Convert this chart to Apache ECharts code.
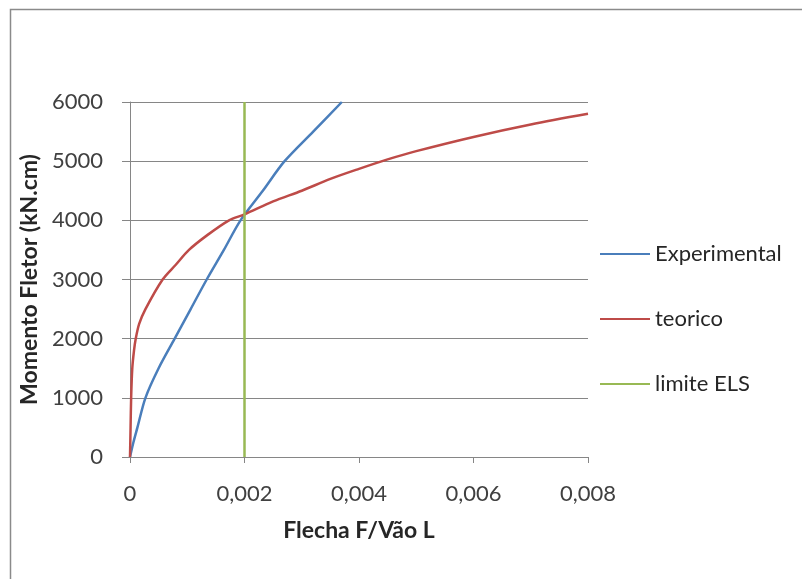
<!DOCTYPE html>
<html>
<head>
<meta charset="utf-8">
<script src="https://cdn.jsdelivr.net/npm/echarts@6/dist/echarts.min.js"></script>
<style>
    html, body { margin: 0; padding: 0; background: #fff; }
</style>
</head>
<body>
    <div id="main" style="width: 802px;height:579px;"></div>
<script type="text/javascript">
    // dados
    var expX = [0, 0.00006, 0.00013, 0.00027, 0.0005, 0.00078, 0.00106, 0.00134, 0.00164, 0.00193, 0.00232, 0.0027, 0.0032, 0.0037];
    var expY = [0, 250, 500, 1000, 1500, 2000, 2500, 3000, 3500, 4000, 4500, 5000, 5500, 6000];
    var teoX = [0, 0.00001, 0.00002, 0.00004, 0.00007, 0.0001, 0.00016, 0.00027, 0.00057, 0.0008, 0.00103, 0.00135, 0.00173, 0.002, 0.0025, 0.003, 0.0035, 0.004, 0.0045, 0.005, 0.006, 0.007, 0.008];
    var teoY = [0, 500, 1000, 1500, 1800, 2000, 2250, 2500, 3000, 3250, 3500, 3750, 4000, 4100, 4320, 4500, 4700, 4870, 5030, 5170, 5410, 5620, 5800];
    var limX = [0.002, 0.002];
    var limY = [0, 6000];
    var xTicks = [0, 0.002, 0.004, 0.006, 0.008];
    var yTicks = [0, 1000, 2000, 3000, 4000, 5000, 6000];

    function pares(xs, ys) {
        var r = [];
        for (var i = 0; i < xs.length; i++) r.push([xs[i], ys[i]]);
        return r;
    }

    var myChart = echarts.init(document.getElementById('main'));
    var fonte = 'Lato, "Open Sans", sans-serif';
    var option = {
        animation: false,
        textStyle: { fontFamily: fonte },
        graphic: [{
            type: 'rect',
            shape: { x: 10.5, y: 9.5, width: 800, height: 580 },
            style: { fill: 'none', stroke: '#8a8a8a', lineWidth: 1.5 }
        }],
        grid: { left: 130, top: 102, right: 214, bottom: 122, containLabel: false },
        legend: {
            orient: 'vertical',
            left: 595,
            top: 237,
            itemWidth: 50,
            itemHeight: 2,
            itemGap: 41,
            icon: 'rect',
            textStyle: { fontSize: 22, lineHeight: 24, color: '#262626', fontFamily: fonte },
            data: ['Experimental', 'teorico', 'limite ELS']
        },
        xAxis: {
            type: 'value',
            min: xTicks[0],
            max: xTicks[xTicks.length - 1],
            interval: 0.002,
            name: 'Flecha F/Vão L',
            nameLocation: 'middle',
            nameGap: 62,
            nameTextStyle: { fontSize: 23, fontWeight: 'bold', color: '#262626' },
            axisLine: { onZero: false, lineStyle: { color: '#868686', width: 1 } },
            axisTick: { show: true, length: 6, lineStyle: { color: '#868686' } },
            axisLabel: {
                fontSize: 22, color: '#404040', margin: 26,
                formatter: function (v) { return String(+v.toFixed(3)).replace('.', ','); }
            },
            splitLine: { show: false }
        },
        yAxis: {
            type: 'value',
            min: yTicks[0],
            max: yTicks[yTicks.length - 1],
            interval: 1000,
            name: 'Momento Fletor (kN.cm)',
            nameLocation: 'middle',
            nameGap: 83,
            nameTextStyle: { fontSize: 23, fontWeight: 'bold', color: '#262626' },
            axisLine: { show: true, lineStyle: { color: '#868686', width: 1 } },
            axisTick: { show: true, length: 8, inside: false, lineStyle: { color: '#868686' } },
            axisLabel: {
                fontSize: 22, color: '#404040', margin: 27,
                formatter: function (v) { return String(v); }
            },
            splitLine: { show: true, lineStyle: { color: '#868686', width: 1 } }
        },
        series: [{
            name: 'Experimental',
            type: 'line',
            smooth: 0.3,
            showSymbol: false,
            color: '#4A7EBB',
            lineStyle: { width: 2.5 },
            data: pares(expX, expY)
        }, {
            name: 'teorico',
            type: 'line',
            smooth: 0.3,
            showSymbol: false,
            color: '#BE4B48',
            lineStyle: { width: 2.5 },
            data: pares(teoX, teoY)
        }, {
            name: 'limite ELS',
            type: 'line',
            showSymbol: false,
            color: '#98B954',
            lineStyle: { width: 2.5 },
            data: pares(limX, limY)
        }]
    };

    myChart.setOption(option);
</script>
</body>
</html>
